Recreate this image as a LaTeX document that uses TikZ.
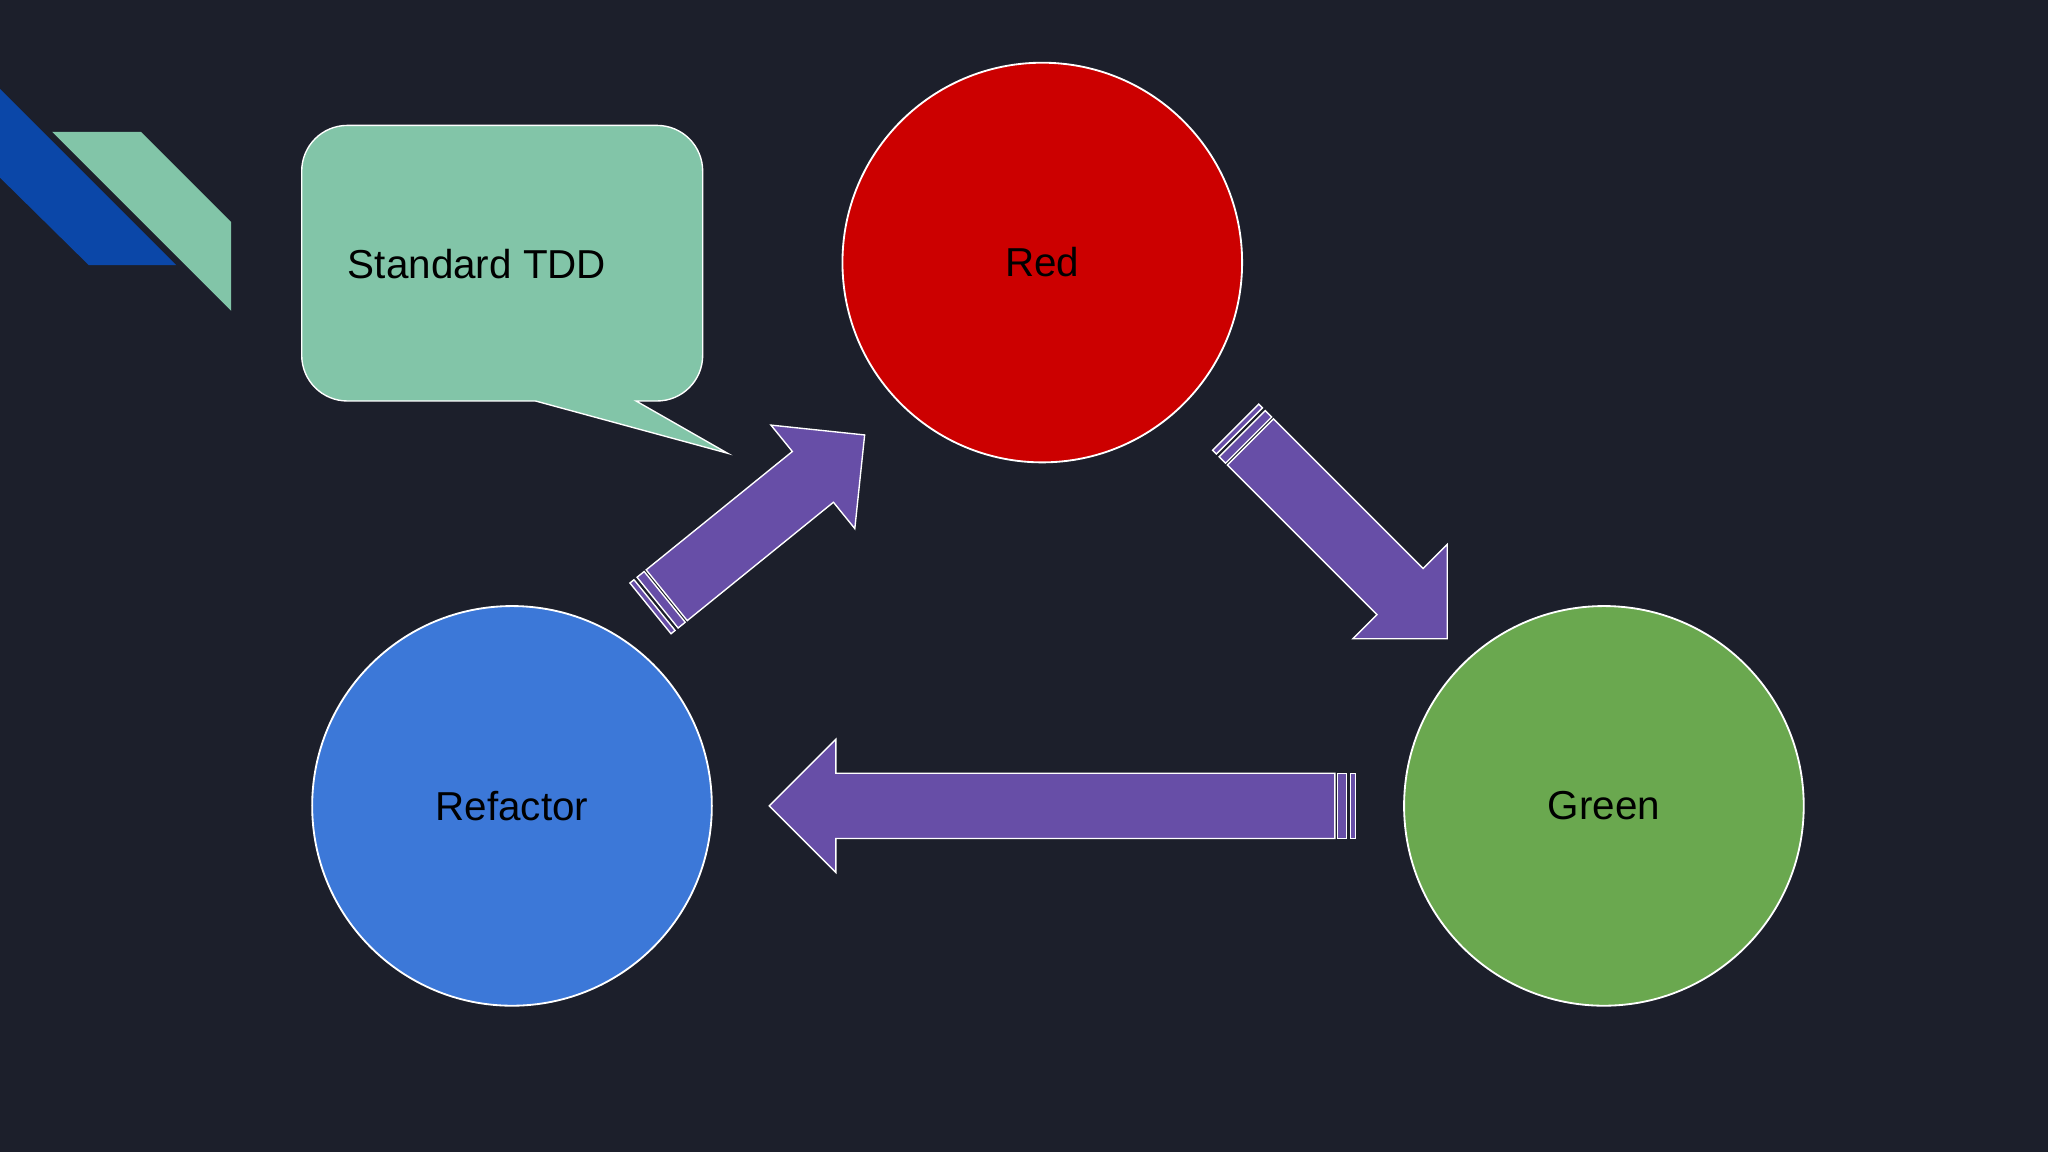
\documentclass[tikz,border=0pt]{standalone}
\usepackage{fontspec}
\setmainfont{Liberation Sans}
\definecolor{bg}{HTML}{1C1F2B}
\definecolor{navy}{HTML}{0B47A8}
\definecolor{mint}{HTML}{82C5A8}
\definecolor{rd}{HTML}{CC0000}
\definecolor{bl}{HTML}{3C78D8}
\definecolor{gr}{HTML}{6AA84F}
\definecolor{pu}{HTML}{674EA7}
\newcommand\fatarrow[4]{% x y angle length
\begin{scope}[shift={(#1,#2)},rotate=#3]
\draw[arr] (0,0)--(51,51)--(51,25)--(#4,25)--(#4,-25)--(51,-25)--(51,-51)--cycle;
\draw[arr] (#4+2,-25) rectangle (#4+9,25);
\draw[arr] (#4+12,-25) rectangle (#4+16,25);
\end{scope}}
\begin{document}
\begin{tikzpicture}[x=0.1mm,y=-0.1mm,
  circ/.style={circle,draw=white,line width=0.4pt,minimum size=30.6mm,inner sep=0pt,font=\fontsize{8.8}{10}\selectfont},
  arr/.style={fill=pu,draw=white,line width=0.3pt,line join=miter}]
\fill[bg] (0,0) rectangle (1568,882);
\useasboundingbox (0,0) rectangle (1568,882);
\fill[navy] (0,68)--(135,203)--(68,203)--(0,136)--cycle;
\fill[mint] (40,101)--(108,101)--(177,170)--(177,238)--cycle;
\draw[fill=mint,draw=white,line width=0.3pt] (266,96) -- (503,96) arc[start angle=-90,end angle=0,radius=35] -- (538,272) arc[start angle=0,end angle=90,radius=35] -- (487,307) -- (557,347) -- (410,307) -- (266,307) arc[start angle=90,end angle=180,radius=35] -- (231,131) arc[start angle=180,end angle=270,radius=35] -- cycle;
\node[anchor=west,font=\fontsize{8.8}{10}\selectfont] (tdd) at (254,202) {Standard TDD};
\node[circ,fill=rd] (red) at (798,201) {Red};
\node[circ,fill=bl] (ref) at (392,617) {Refactor};
\node[circ,fill=gr] (grn) at (1228,617) {Green};
\fatarrow{589}{617}{0}{433}
\fatarrow{1108}{489}{135}{213}
\fatarrow{662}{333}{219}{195}
\end{tikzpicture}
\end{document}
